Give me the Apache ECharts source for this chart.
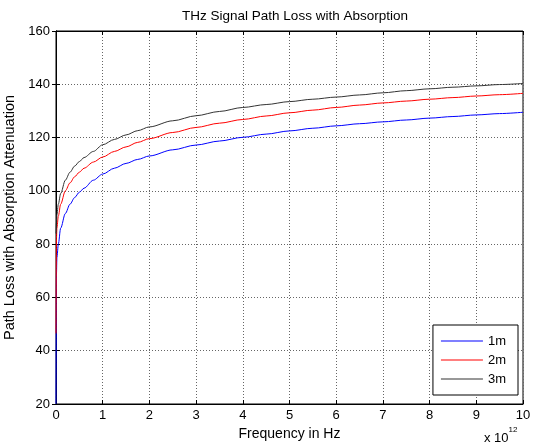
<!DOCTYPE html>
<html>
<head>
<meta charset="utf-8">
<script src="https://cdn.jsdelivr.net/npm/echarts@6/dist/echarts.min.js"></script>
<style>
  html, body { margin: 0; padding: 0; background: #fff; }
  #main { width: 533px; height: 446px; }
</style>
</head>
<body>
<div id="main"></div>
<script>
// frequency, in units of 10^12 Hz
var freq = [0, 0.01, 0.02, 0.05, 0.1, 0.2, 0.3, 0.4, 0.5, 0.6, 0.8, 1, 1.25, 1.5, 1.75, 2,
  2.5, 3, 3.5, 4, 4.5, 5, 5.5, 6, 6.5, 7, 7.5, 8, 8.5, 9, 9.5, 10];
// path loss (dB)
var loss1m = [20, 69, 75, 80, 86, 91.5, 95, 97.5, 99.5, 101, 104, 106.3, 108.5, 110.3, 111.8, 113.1,
  115.4, 117.2, 118.7, 120.1, 121.3, 122.5, 123.5, 124.4, 125.2, 125.9, 126.6, 127.3, 127.9, 128.5, 129.0, 129.5];
var loss2m = [46.5, 82, 86, 90.5, 95, 100, 103, 105.3, 107, 108.5, 110.8, 112.7, 114.8, 116.5, 118.2, 119.6,
  121.9, 123.8, 125.4, 126.8, 128.1, 129.3, 130.3, 131.3, 132.2, 133, 133.7, 134.4, 135, 135.6, 136.1, 136.6];
var loss3m = [84, 88, 91, 95, 99, 104, 107, 109.3, 111, 112.5, 114.8, 117.3, 119.3, 121, 122.6, 124,
  126.3, 128.2, 129.8, 131.3, 132.4, 133.5, 134.4, 135.2, 136, 136.8, 137.6, 138.3, 138.9, 139.4, 139.9, 140.3];
var names = ['1m', '2m', '3m'];
var colors = ['#0000ff', '#ff0000', '#333333'];

function pairs(ys) {
  return freq.map(function (f, i) { return [f, ys[i]]; });
}

var font = 'Liberation Sans, Arial, sans-serif';
var myChart = echarts.init(document.getElementById('main'));

var gridLine = { show: true, lineStyle: { color: '#666', type: [1, 2], width: 1 } };
var tick = { show: true, inside: true, length: 4, lineStyle: { color: '#000' } };

myChart.setOption({
  animation: false,
  title: {
    text: 'THz Signal Path Loss with Absorption',
    left: 290, top: 4, textAlign: 'center',
    textStyle: { fontFamily: font, fontSize: 13.5, fontWeight: 'normal', color: '#000' }
  },
  grid: {
    left: 56, right: 10, top: 31, bottom: 42, outerBoundsMode: 'none',
    show: true, borderColor: '#000', borderWidth: 1
  },
  legend: {
    orient: 'vertical', right: 15, bottom: 51,
    data: names,
    backgroundColor: '#fff', borderColor: '#000', borderWidth: 1,
    padding: [9, 12, 9, 8], itemGap: 5, itemWidth: 42, itemHeight: 1.2,
    icon: 'rect',
    itemStyle: { borderWidth: 0 },
    textStyle: { fontFamily: font, fontSize: 13, color: '#000', lineHeight: 14 }
  },
  xAxis: [{
    type: 'value', min: 0, max: 10, interval: 1,
    name: 'Frequency in Hz', nameLocation: 'middle', nameGap: 21,
    nameTextStyle: { fontFamily: font, fontSize: 14, color: '#000' },
    axisLine: { lineStyle: { color: '#000' } },
    axisTick: tick, splitLine: gridLine,
    axisLabel: { fontFamily: font, fontSize: 13, color: '#000', margin: 5 }
  }, {
    type: 'value', min: 0, max: 10, interval: 1, position: 'top',
    axisLine: { lineStyle: { color: '#000' } },
    axisTick: tick, splitLine: { show: false }, axisLabel: { show: false }
  }],
  yAxis: [{
    type: 'value', min: 20, max: 160, interval: 20,
    name: 'Path Loss with Absorption Attenuation', nameLocation: 'middle', nameGap: 33,
    nameTextStyle: { fontFamily: font, fontSize: 14.5, color: '#000' },
    axisLine: { show: true, lineStyle: { color: '#000' } },
    axisTick: tick, splitLine: gridLine,
    axisLabel: { fontFamily: font, fontSize: 13, color: '#000', margin: 6 }
  }, {
    type: 'value', min: 20, max: 160, interval: 20, position: 'right',
    axisLine: { show: true, lineStyle: { color: '#000' } },
    axisTick: tick, splitLine: { show: false }, axisLabel: { show: false }
  }],
  graphic: [{
    type: 'text', left: 484, top: 426,
    style: {
      text: '{b|x 10}{s|12}',
      rich: {
        b: { fontFamily: font, fontSize: 13, fill: '#000', padding: [6, 0, 0, 0] },
        s: { fontFamily: font, fontSize: 8, fill: '#000', verticalAlign: 'top' }
      }
    }
  }],
  series: [loss1m, loss2m, loss3m].map(function (ys, i) {
    return {
      name: names[i], type: 'line', data: pairs(ys),
      showSymbol: false, smooth: 0.3, smoothMonotone: 'x',
      itemStyle: { color: colors[i] },
      lineStyle: { color: colors[i], width: 1 }
    };
  })
});
</script>
</body>
</html>
